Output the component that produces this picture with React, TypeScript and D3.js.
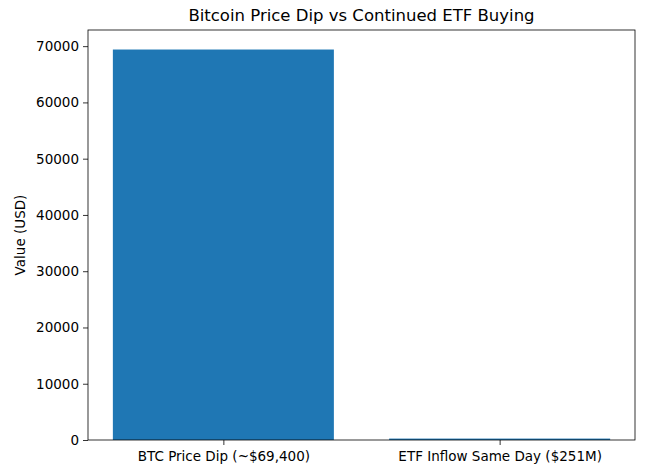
import { useEffect, useRef } from "react";
import * as d3 from "d3";

const categories = ["BTC Price Dip (~$69,400)", "ETF Inflow Same Day ($251M)"];
const values = [69400, 251];
const yTicks = [0, 10000, 20000, 30000, 40000, 50000, 60000, 70000];

export default function App() {
  const svgRef = useRef<SVGSVGElement | null>(null);

  useEffect(() => {
    if (!svgRef.current) return;
    const svg = d3.select(svgRef.current);
    svg.selectAll("*").remove();

    const width = 649;
    const height = 470;
    const margin = { top: 30, right: 14, bottom: 30, left: 88 };
    const font = "DejaVu Sans, sans-serif";

    const maxValue = d3.max(values) ?? 0;
    const x = d3
      .scaleLinear()
      .domain([-0.49, categories.length - 1 + 0.49])
      .range([margin.left, width - margin.right]);
    const y = d3
      .scaleLinear()
      .domain([0, maxValue * 1.05])
      .range([height - margin.bottom, margin.top]);

    const barWidth = x(0.8) - x(0);

    svg
      .attr("width", width)
      .attr("height", height)
      .attr("viewBox", `0 0 ${width} ${height}`)
      .style("display", "block")
      .style("overflow", "visible")
      .style("background", "#fff");

    svg
      .append("g")
      .selectAll("rect")
      .data(values)
      .join("rect")
      .attr("x", (_, i) => x(i) - barWidth / 2)
      .attr("y", (d) => y(d))
      .attr("width", barWidth)
      .attr("height", (d) => y(0) - y(d))
      .attr("fill", "#1f77b4");

    // y axis
    const yAxis = svg
      .append("g")
      .attr("transform", `translate(${margin.left},0)`)
      .call(
        d3
          .axisLeft(y)
          .tickValues(yTicks)
          .tickFormat((d) => String(d))
          .tickSize(5)
          .tickPadding(4)
      );
    yAxis.select(".domain").remove();
    yAxis.selectAll("line").attr("stroke", "#000").attr("stroke-width", 0.8);
    yAxis
      .selectAll("text")
      .attr("font-family", font)
      .attr("font-size", 13.5)
      .attr("fill", "#000");

    // x axis
    const xAxis = svg
      .append("g")
      .attr("transform", `translate(0,${height - margin.bottom})`)
      .call(
        d3
          .axisBottom(x)
          .tickValues(categories.map((_, i) => i))
          .tickFormat((d) => categories[d as number])
          .tickSize(5)
          .tickPadding(6)
      );
    xAxis.select(".domain").remove();
    xAxis.selectAll("line").attr("stroke", "#000").attr("stroke-width", 0.8);
    xAxis
      .selectAll("text")
      .attr("font-family", font)
      .attr("font-size", 13.5)
      .attr("fill", "#000");

    // frame
    svg
      .append("rect")
      .attr("x", margin.left)
      .attr("y", margin.top)
      .attr("width", width - margin.right - margin.left)
      .attr("height", height - margin.bottom - margin.top)
      .attr("fill", "none")
      .attr("stroke", "#000")
      .attr("stroke-width", 0.8);

    svg
      .append("text")
      .attr("x", (margin.left + width - margin.right) / 2)
      .attr("y", 21)
      .attr("text-anchor", "middle")
      .attr("font-family", font)
      .attr("font-size", 16.5)
      .attr("fill", "#000")
      .text("Bitcoin Price Dip vs Continued ETF Buying");

    svg
      .append("text")
      .attr(
        "transform",
        `translate(25,${(margin.top + height - margin.bottom) / 2}) rotate(-90)`
      )
      .attr("text-anchor", "middle")
      .attr("font-family", font)
      .attr("font-size", 13.5)
      .attr("fill", "#000")
      .text("Value (USD)");
  }, []);

  return (
    <div style={{ position: "absolute", left: 0, top: 0 }}>
      <svg ref={svgRef} />
    </div>
  );
}
